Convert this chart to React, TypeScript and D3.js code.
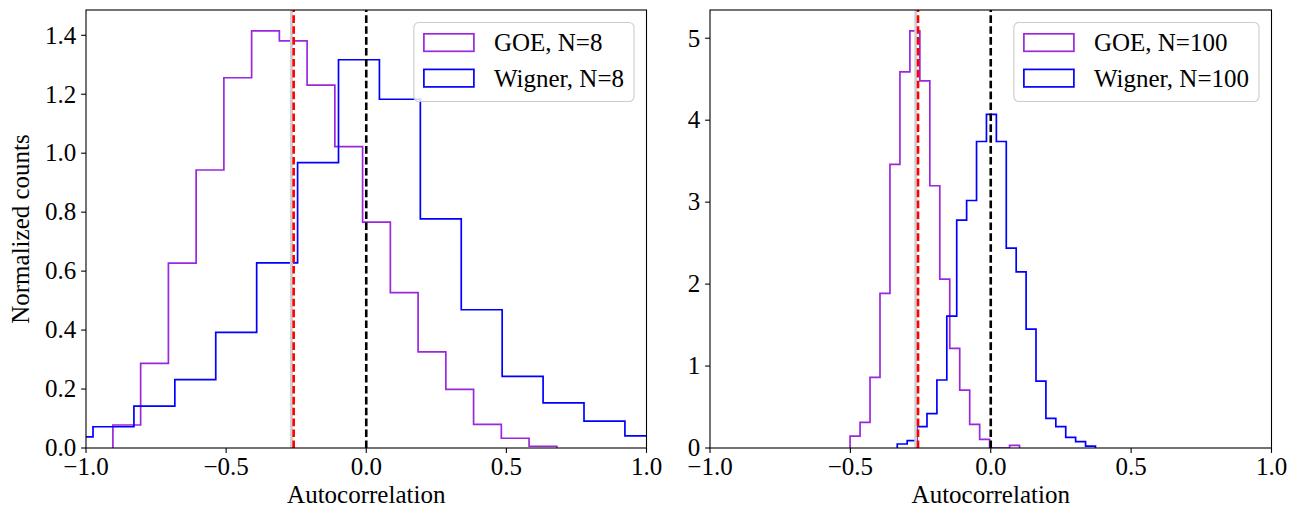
import React from 'react';
import * as d3 from 'd3';

const FONT = "'Liberation Serif', 'Times New Roman', 'DejaVu Serif', serif";
const FS = 25;

const xTicks = [-1, -0.5, 0, 0.5, 1];
const leftYTicks = [0, 0.2, 0.4, 0.6, 0.8, 1.0, 1.2, 1.4];
const rightYTicks = [0, 1, 2, 3, 4, 5];

// GOE N=8
const goe8Edges = [-0.904, -0.805, -0.706, -0.607, -0.508, -0.409, -0.31, -0.211, -0.112, -0.013, 0.086, 0.185, 0.284, 0.383, 0.482, 0.581, 0.68];
const goe8Values = [0.078, 0.287, 0.627, 0.943, 1.256, 1.415, 1.381, 1.231, 1.022, 0.766, 0.527, 0.326, 0.199, 0.08, 0.033, 0.006];
// Wigner N=8
const wig8Edges = [-1.121, -0.975, -0.829, -0.683, -0.537, -0.391, -0.245, -0.099, 0.047, 0.193, 0.339, 0.485, 0.631, 0.777, 0.923, 1.069];
const wig8Values = [0.038, 0.072, 0.142, 0.232, 0.392, 0.628, 0.968, 1.317, 1.183, 0.777, 0.469, 0.243, 0.153, 0.091, 0.041];
// GOE N=100
const goe100Edges = [-0.501, -0.4655, -0.43, -0.3945, -0.359, -0.3235, -0.288, -0.2525, -0.217, -0.1815, -0.146, -0.1105, -0.075, -0.0395, -0.004, 0.0315, 0.067, 0.1025];
const goe100Values = [0.146, 0.313, 0.862, 1.886, 3.46, 4.59, 5.09, 4.48, 3.2, 2.06, 1.216, 0.707, 0.289, 0.106, 0, 0, 0.033];
// Wigner N=100
const wig100Edges = [-0.333, -0.2977, -0.2624, -0.2271, -0.1918, -0.1565, -0.1212, -0.0859, -0.0506, -0.0153, 0.02, 0.0553, 0.0906, 0.1259, 0.1612, 0.1965, 0.2318, 0.2671, 0.3024, 0.3377, 0.373];
const wig100Values = [0.049, 0.089, 0.26, 0.42, 0.83, 1.61, 2.78, 3.02, 3.74, 4.07, 3.74, 2.44, 2.15, 1.45, 0.817, 0.362, 0.26, 0.13, 0.077, 0.024];

const grayLineX = -0.267;
const redLineX = -0.259;
const blackLineX = 0;

const PURPLE = '#9b27dd';
const BLUE = '#0000ff';

const TOP = 10;
const BOTTOM = 448;

type Series = { edges: number[]; values: number[]; color: string; label: string };

function measure(text: string): number {
  try {
    const c = document.createElement('canvas').getContext('2d');
    if (c) {
      c.font = `${FS}px ${FONT}`;
      return c.measureText(text).width;
    }
  } catch (e) {}
  return text.length * FS * 0.5;
}

function fmtX(v: number) {
  return d3.format('.1f')(v).replace('-', '\u2212');
}

function Panel(props: {
  id: string;
  x0: number;
  x1: number;
  series: Series[];
  yTicks: number[];
  yFmt: (v: number) => string;
  ylabel?: string;
}) {
  const { id, x0, x1, series, yTicks, yFmt, ylabel } = props;
  const x = d3.scaleLinear().domain([-1, 1]).range([x0, x1]);
  const ymax = (d3.max(series.flatMap((s) => s.values)) as number) * 1.05;
  const y = d3.scaleLinear().domain([0, ymax]).range([BOTTOM, TOP]);
  const line = d3
    .line<[number, number]>()
    .x((d) => x(d[0]))
    .y((d) => y(d[1]));

  const stepPts = (s: Series): [number, number][] => {
    const pts: [number, number][] = [[s.edges[0], 0]];
    s.values.forEach((v, i) => {
      pts.push([s.edges[i], v]);
      pts.push([s.edges[i + 1], v]);
    });
    pts.push([s.edges[s.edges.length - 1], 0]);
    return pts;
  };

  const tickLen = 4.9;
  const pad = 4.9;

  // legend
  const lbTop = TOP + 12.5;
  const lbRight = x1 - 12.5;
  const textW = d3.max(series.map((s) => measure(s.label))) as number;
  const lbW = 10 + 50 + 20 + textW + 10;
  const lbLeft = lbRight - lbW;
  const rowH = 35.6;
  const lbH = 79;

  return (
    <g>
      <defs>
        <clipPath id={`clip-${id}`}>
          <rect x={x0} y={TOP} width={x1 - x0} height={BOTTOM - TOP} />
        </clipPath>
      </defs>
      <g clipPath={`url(#clip-${id})`}>
        {series.map((s) => (
          <path key={s.label} d={line(stepPts(s)) || ''} fill="none" stroke={s.color} strokeWidth={1.7} />
        ))}
        <line x1={x(grayLineX)} x2={x(grayLineX)} y1={BOTTOM} y2={TOP} stroke="#d0d0d0" strokeWidth={3} />
        <line x1={x(redLineX)} x2={x(redLineX)} y1={BOTTOM} y2={TOP} stroke="#ff0000" strokeWidth={2.6} strokeDasharray="7.6,3.3" />
        <line x1={x(blackLineX)} x2={x(blackLineX)} y1={BOTTOM} y2={TOP} stroke="#000000" strokeWidth={2.6} strokeDasharray="7.6,3.3" />
      </g>
      <rect x={x0} y={TOP} width={x1 - x0} height={BOTTOM - TOP} fill="none" stroke="#000" strokeWidth={1.1} />
      {xTicks.map((t) => (
        <g key={`x${t}`}>
          <line x1={x(t)} x2={x(t)} y1={BOTTOM} y2={BOTTOM + tickLen} stroke="#000" strokeWidth={1.1} />
          <text x={x(t)} y={BOTTOM + tickLen + pad + 16.8} textAnchor="middle" fontFamily={FONT} fontSize={FS} fill="#000">
            {fmtX(t)}
          </text>
        </g>
      ))}
      {yTicks.map((t) => (
        <g key={`y${t}`}>
          <line x1={x0 - tickLen} x2={x0} y1={y(t)} y2={y(t)} stroke="#000" strokeWidth={1.1} />
          <text x={x0 - tickLen - pad} y={y(t) + 8.3} textAnchor="end" fontFamily={FONT} fontSize={FS} fill="#000">
            {yFmt(t)}
          </text>
        </g>
      ))}
      <text x={(x0 + x1) / 2} y={503} textAnchor="middle" fontFamily={FONT} fontSize={FS} fill="#000">
        Autocorrelation
      </text>
      {ylabel && (
        <text transform={`translate(29,${(TOP + BOTTOM) / 2}) rotate(-90)`} textAnchor="middle" fontFamily={FONT} fontSize={FS} fill="#000">
          {ylabel}
        </text>
      )}
      <rect x={lbLeft} y={lbTop} width={lbW} height={lbH} rx={5} ry={5} fill="#ffffff" fillOpacity={0.8} stroke="#cccccc" strokeWidth={1.1} />
      {series.map((s, i) => {
        const cy = lbTop + 20 + i * rowH;
        return (
          <g key={`lg${s.label}`}>
            <rect x={lbLeft + 10} y={cy - 8.7} width={50} height={17.5} fill="none" stroke={s.color} strokeWidth={1.7} />
            <text x={lbLeft + 80} y={cy + 8.6} fontFamily={FONT} fontSize={FS} fill="#000">
              {s.label}
            </text>
          </g>
        );
      })}
    </g>
  );
}

export default function App() {
  const left: Series[] = [
    { edges: goe8Edges, values: goe8Values, color: PURPLE, label: 'GOE, N=8' },
    { edges: wig8Edges, values: wig8Values, color: BLUE, label: 'Wigner, N=8' },
  ];
  const right: Series[] = [
    { edges: goe100Edges, values: goe100Values, color: PURPLE, label: 'GOE, N=100' },
    { edges: wig100Edges, values: wig100Values, color: BLUE, label: 'Wigner, N=100' },
  ];
  return (
    <svg width={1297} height={515} style={{ position: 'absolute', left: 0, top: 0, background: '#fff' }}>
      <rect x={0} y={0} width={1297} height={515} fill="#fff" />
      <Panel id="l" x0={86} x1={646.5} series={left} yTicks={leftYTicks} yFmt={(v) => d3.format('.1f')(v)} ylabel="Normalized counts" />
      <Panel id="r" x0={710} x1={1271.5} series={right} yTicks={rightYTicks} yFmt={(v) => d3.format('d')(v)} />
    </svg>
  );
}
